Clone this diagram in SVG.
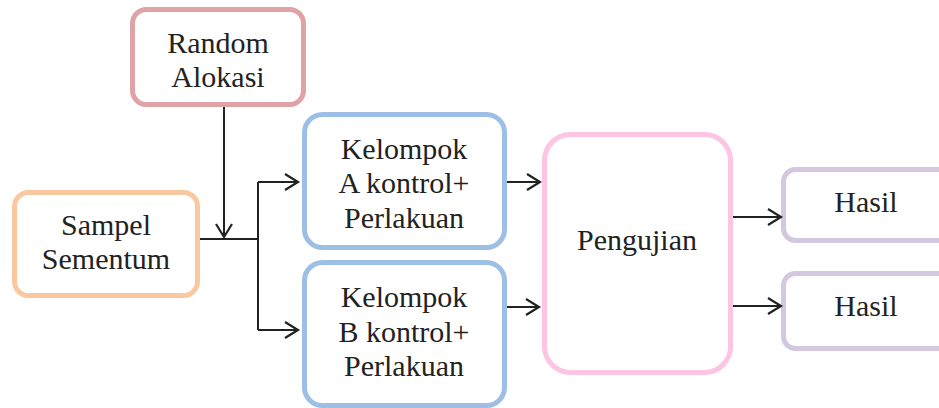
<svg xmlns="http://www.w3.org/2000/svg" width="939" height="408" viewBox="0 0 939 408">
<style>
.box{fill:#fff;stroke-width:5}
.t{font-family:'Liberation Serif','Times New Roman','DejaVu Serif',serif;font-size:30px;fill:#222;text-anchor:middle}
.c{fill:none;stroke:#222;stroke-width:2}
</style>
<defs>
<marker id="ah" markerUnits="userSpaceOnUse" markerWidth="20" markerHeight="20" refX="14" refY="9" orient="auto" viewBox="0 0 20 20">
<path d="M1,1 L14,9 L1,17" fill="none" stroke="#222" stroke-width="2.2"/>
</marker>
</defs>
<rect width="939" height="408" fill="#fff"/>
<g id="random">
<rect class="box" x="132.5" y="9.5" width="171" height="95" rx="14" stroke="#dfa3a5"/>
<text class="t" x="218" y="53">Random</text>
<text class="t" x="218" y="87">Alokasi</text>
</g>
<g id="sampel">
<rect class="box" x="14.5" y="192.5" width="183" height="103" rx="14" stroke="#f9c89f"/>
<text class="t" x="106" y="235">Sampel</text>
<text class="t" x="106" y="269">Sementum</text>
</g>
<g id="kelompokA">
<rect class="box" x="304.5" y="114.5" width="200" height="133" rx="18" stroke="#9dbfe6"/>
<text class="t" x="404" y="159">Kelompok</text>
<text class="t" x="404" y="193">A kontrol+</text>
<text class="t" x="404" y="228">Perlakuan</text>
</g>
<g id="kelompokB">
<rect class="box" x="304.5" y="262.5" width="200" height="143" rx="18" stroke="#9dbfe6"/>
<text class="t" x="404" y="307">Kelompok</text>
<text class="t" x="404" y="342">B kontrol+</text>
<text class="t" x="404" y="376">Perlakuan</text>
</g>
<g id="pengujian">
<rect class="box" x="544.5" y="134.5" width="186" height="238" rx="26" stroke="#fdc4e4"/>
<text class="t" x="637" y="250">Pengujian</text>
</g>
<g id="hasil1">
<rect class="box" x="783.5" y="169.5" width="180" height="71" rx="12" stroke="#d3c8e0"/>
<text class="t" x="866" y="212">Hasil</text>
</g>
<g id="hasil2">
<rect class="box" x="783.5" y="273.5" width="180" height="75" rx="12" stroke="#d3c8e0"/>
<text class="t" x="866" y="316">Hasil</text>
</g>
<g id="connectors">
<path class="c" d="M224,107 V237" marker-end="url(#ah)"/>
<path class="c" d="M200,239 H258"/>
<path class="c" d="M258,182 V330"/>
<path class="c" d="M258,182 H298" marker-end="url(#ah)"/>
<path class="c" d="M258,330 H298" marker-end="url(#ah)"/>
<path class="c" d="M507,182 H540" marker-end="url(#ah)"/>
<path class="c" d="M507,307 H539" marker-end="url(#ah)"/>
<path class="c" d="M733,217 H781" marker-end="url(#ah)"/>
<path class="c" d="M733,306 H781" marker-end="url(#ah)"/>
</g>
</svg>
